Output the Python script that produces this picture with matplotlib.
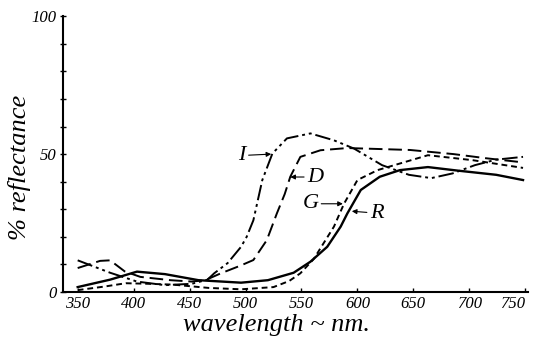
import numpy as np
import matplotlib.pyplot as plt

# curve I (dash-dot-dot)
wl_I = [350, 379, 403, 428, 452, 466, 472, 484, 496, 501, 507, 515, 524, 537, 558, 579, 597, 622, 646, 666, 685, 705, 724, 748]
ref_I = [11.5, 7, 3.8, 2.5, 3, 4.5, 6.8, 10.5, 16.4, 20, 26, 40.6, 50.2, 55.7, 57.5, 55, 52, 46, 42.5, 41.3, 43, 46, 48, 49]

# curve D (long dash)
wl_D = [350, 370, 379, 392, 406, 433, 452, 464, 478, 495, 507, 519, 528, 535, 540, 549, 567, 591, 647, 686, 715, 748]
ref_D = [8.7, 11.3, 11.5, 7.5, 5.5, 4.3, 3.8, 4.3, 6.8, 9.5, 11.6, 18.8, 28.5, 35.5, 41.8, 49, 51.4, 52.2, 51.5, 50, 48.5, 47]

# curve G (short dash)
wl_G = [350, 374, 393, 413, 435, 467, 496, 525, 539, 549, 561, 579, 588, 600, 618, 638, 663, 703, 748]
ref_G = [0.7, 2, 3.2, 3, 2.7, 1.5, 1, 1.8, 4, 6.8, 12, 23.7, 32, 40.6, 44.2, 46.6, 49.6, 47.8, 45]

# curve R (solid)
wl_R = [350, 379, 403, 428, 458, 496, 520, 543, 558, 573, 585, 591, 603, 620, 638, 663, 690, 724, 748]
ref_R = [1.8, 4.5, 7.4, 6.5, 4.3, 3.4, 4.3, 7, 11, 16.4, 23.7, 28.5, 37, 41.8, 44.2, 45.3, 44, 42.5, 40.6]

xticks = [350, 400, 450, 500, 550, 600, 650, 700, 750]
yticks = [0, 50, 100]

fnt = {'family': 'Liberation Serif', 'style': 'italic'}

fig = plt.figure(figsize=(5.35, 3.44), dpi=100)
ax = fig.add_axes([0.118, 0.151, 0.868, 0.802])

ax.plot(wl_I, ref_I, color='black', lw=1.4, linestyle=(0, (8, 2, 1.5, 2, 1.5, 2)))
ax.plot(wl_D, ref_D, color='black', lw=1.4, linestyle=(0, (7, 3)))
ax.plot(wl_G, ref_G, color='black', lw=1.4, linestyle=(0, (3, 2)))
ax.plot(wl_R, ref_R, color='black', lw=1.7)

# popisky krivek se sipkami
arr = dict(arrowstyle='-|>', color='black', lw=0.8, mutation_scale=7, shrinkA=0, shrinkB=0)
ax.annotate('I', xy=(523, 50), xytext=(497, 49.5), fontsize=16, **fnt,
            ha='center', va='center', arrowprops=arr)
ax.annotate('D', xy=(540, 41.7), xytext=(562, 41.7), fontsize=16, **fnt,
            ha='center', va='center', arrowprops=arr)
ax.annotate('G', xy=(587, 32), xytext=(558, 32), fontsize=16, **fnt,
            ha='center', va='center', arrowprops=arr)
ax.annotate('R', xy=(595, 29.3), xytext=(617, 28.6), fontsize=16, **fnt,
            ha='center', va='center', arrowprops=arr)

ax.set_xlim(337, 752)
ax.set_ylim(0, 100)
ax.spines['top'].set_visible(False)
ax.spines['right'].set_visible(False)
ax.spines['left'].set_linewidth(1.5)
ax.spines['bottom'].set_linewidth(1.5)

ax.set_xticks(xticks)
ax.set_xticklabels([str(t) for t in xticks], fontdict=fnt, fontsize=12)
ax.get_xticklabels()[-1].set_horizontalalignment('right')
ax.set_yticks(yticks)
ax.set_yticklabels([str(t) for t in yticks], fontdict=fnt, fontsize=12)
ax.set_yticks(np.arange(0, 101, 10), minor=True)
ax.tick_params(axis='x', direction='in', length=3, width=1, pad=3)
ax.tick_params(axis='y', which='both', direction='inout', length=5, width=1, pad=2)

ax.set_xlabel('wavelength ~ nm.', fontdict=fnt, fontsize=19)
ax.set_ylabel('% reflectance', fontdict=fnt, fontsize=19)
ax.xaxis.set_label_coords(0.459, -0.078)
ax.yaxis.set_label_coords(-0.07, 0.453)

fig.savefig('out.png', dpi=100)
